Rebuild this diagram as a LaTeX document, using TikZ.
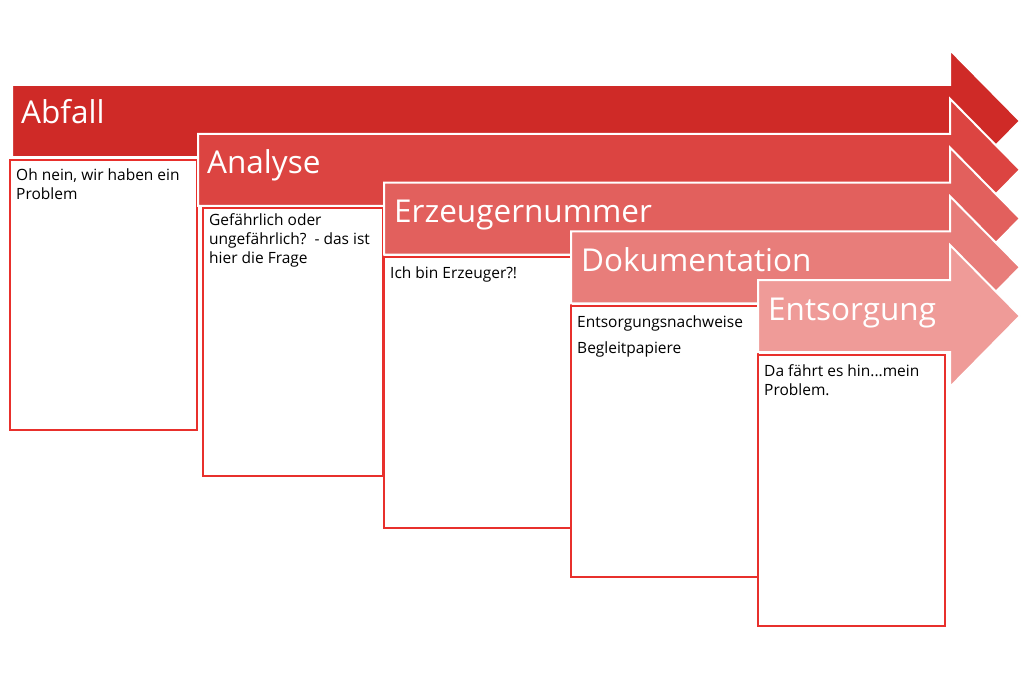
\documentclass[tikz,border=0pt]{standalone}
\usepackage{fontspec}
\setmainfont{Open Sans}
\definecolor{c1}{HTML}{CF2A27}
\definecolor{c2}{HTML}{DC4441}
\definecolor{c3}{HTML}{E2605D}
\definecolor{c4}{HTML}{E87D7A}
\definecolor{c5}{HTML}{EF9B98}
\definecolor{boxred}{HTML}{E8302C}
\newcommand\stagearrowat[3]{%
  \fill[#3,stagearrow] (#1,#2-36) -- (950,#2-36) -- (950,#2-71) -- (1020,#2)
    -- (950,#2+71) -- (950,#2+36) -- (#1,#2+36) -- cycle;}
\begin{document}
\begin{tikzpicture}[x=1pt,y=-1pt,
  stagearrow/.style={draw=white, line width=2pt, line join=miter},
  stagetitle/.style={anchor=base west, inner sep=0pt, text=white, font=\fontsize{31.5}{36}\selectfont},
  notebox/.style={draw=boxred, line width=2pt},
  notetext/.style={anchor=north west, inner sep=0pt, align=left, font=\fontsize{15.5}{19}\selectfont}]
\useasboundingbox[fill=white] (0,0) rectangle (1024,674);
% stage 1
\stagearrowat{12}{121}{c1}
\node[stagetitle] (t1) at (21,124) {Abfall};
\draw[notebox] (10,160) rectangle (197,430);
\node[notetext] (n1) at (16,168.5) {Oh nein, wir haben ein\\Problem};
% stage 2
\stagearrowat{198}{169.75}{c2}
\node[stagetitle] (t2) at (207,173) {Analyse};
\draw[notebox] (203,208) rectangle (383,476);
\node[notetext] (n2) at (209,213.5) {Gefährlich oder\\ungefährlich?\ \ - das ist\\hier die Frage};
% stage 3
\stagearrowat{384}{218.5}{c3}
\node[stagetitle] (t3) at (394,222) {Erzeugernummer};
\draw[notebox] (384,257) rectangle (571,528);
\node[notetext] (n3) at (390,266.5) {Ich bin Erzeuger?!};
% stage 4
\stagearrowat{571}{267.25}{c4}
\node[stagetitle] (t4) at (581,271) {Dokumentation};
\draw[notebox] (571,306) rectangle (758,577);
\node[notetext] (n4) at (577,315.5) {Entsorgungsnachweise\\[7pt]Begleitpapiere};
% stage 5
\stagearrowat{758}{316}{c5}
\node[stagetitle] (t5) at (768,320) {Entsorgung};
\draw[notebox] (758,355) rectangle (945,626);
\node[notetext] (n5) at (764,364.5) {Da fährt es hin...mein\\Problem.};
\end{tikzpicture}
\end{document}
